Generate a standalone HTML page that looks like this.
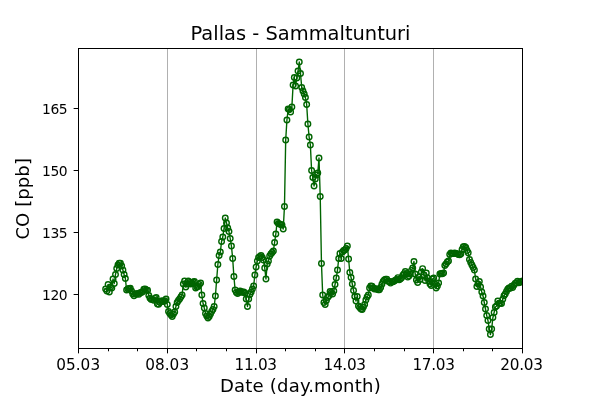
<!DOCTYPE html><html><head><meta charset="utf-8"><title>Pallas - Sammaltunturi</title><style>html,body{margin:0;padding:0;background:#fff}svg{display:block}text{font-family:"DejaVu Sans","Liberation Sans",sans-serif;fill:#000}</style></head><body>
<svg width="600" height="400" viewBox="0 0 600 400">
<rect width="600" height="400" fill="#fff"/>
<defs><clipPath id="ax"><rect x="78.5" y="48.5" width="444" height="300"/></clipPath></defs>
<line x1="167.50" y1="48.5" x2="167.50" y2="348.5" stroke="#b0b0b0" stroke-width="1"/>
<line x1="256.50" y1="48.5" x2="256.50" y2="348.5" stroke="#b0b0b0" stroke-width="1"/>
<line x1="344.50" y1="48.5" x2="344.50" y2="348.5" stroke="#b0b0b0" stroke-width="1"/>
<line x1="433.50" y1="48.5" x2="433.50" y2="348.5" stroke="#b0b0b0" stroke-width="1"/>
<g clip-path="url(#ax)" stroke="#006400" fill="none">
<polyline stroke-width="1.39" stroke-linejoin="round" points="105.63,289 106.87,291 108.1,284.5 109.33,292 110.57,287 111.8,288 113.03,279 114.27,283.5 115.5,274.5 116.73,268.5 117.97,265 119.2,263.3 120.43,263.2 121.67,266 122.9,270 124.13,274.5 125.37,278.5 126.6,290 127.83,289.09 129.07,288.5 130.3,288.27 131.53,291.08 132.77,293.95 134,295.69 135.23,293.67 136.47,294.21 137.7,293.45 138.93,294.3 140.17,292.61 141.4,292.58 142.63,291.84 143.87,289.28 145.1,288.97 146.33,290.02 147.57,290.27 148.8,295.58 150.03,298.29 151.27,299.38 152.5,299.6 153.73,300.35 154.97,298.35 156.2,297.47 157.43,304.08 158.67,304.33 159.9,302.46 161.13,301.22 162.37,300.69 163.6,301.43 164.83,300.78 166.07,299.09 167.3,304.5 168.53,311.5 169.77,313.5 171,315 172.23,316.5 173.47,314 174.7,312 175.93,306.5 177.17,302.5 178.4,300.5 179.63,299 180.87,297 182.1,295 183.33,284 184.57,281 185.8,287 187.03,284 188.27,281 189.5,282.5 190.73,284 191.97,283 193.2,282 194.43,281.5 195.67,288 196.9,287 198.13,286.5 199.37,284.5 200.6,283 201.83,295 203.07,303.5 204.3,308 205.53,313.5 206.77,316 208,318 209.23,316.5 210.47,314 211.7,311.5 212.93,309.5 214.17,306.5 215.4,296 216.63,280 217.87,264.5 219.1,255.5 220.33,252 221.57,241.5 222.8,237 224.03,228.5 225.27,218 226.5,223 227.73,228 228.97,231.5 230.2,238.5 231.43,246 232.67,258.5 233.9,276.5 235.13,290 236.37,292.5 237.6,293.62 238.83,292.32 240.07,291 241.3,292.22 242.53,291.94 243.77,291.97 245,293 246.23,299 247.47,306.5 248.7,299 249.93,294.5 251.17,292 252.4,289 253.63,286 254.87,275 256.1,267 257.33,261 258.57,257.5 259.8,256.5 261.03,255.5 262.27,257.5 263.5,260 264.73,268 265.97,279 267.2,264 268.43,261 269.67,256 270.9,254 272.13,252.5 273.37,251 274.6,242.5 275.83,234 277.07,222 278.3,223.5 279.53,224 280.77,224.5 282,225 283.23,229 284.47,206.5 285.7,140 286.93,120 288.17,109 289.4,109.5 290.63,112 291.87,107 293.1,85 294.33,77.5 295.57,86 296.8,78 298.03,71 299.27,62 300.5,73.5 301.73,87.5 302.97,91 304.2,94 305.43,97.5 306.67,104.5 307.9,124 309.13,137 310.37,145 311.6,170.5 312.83,177.5 314.07,186 315.3,179 316.53,175 317.77,173 319,158 320.23,196.5 321.47,263.5 322.7,295 323.93,302.5 325.17,304.5 326.4,300.5 327.63,297.5 328.87,296 330.1,291.5 331.33,292.5 332.57,294 333.8,291 335.03,284.5 336.27,278 337.5,270 338.73,258.5 339.97,253.5 341.2,258.5 342.43,252 343.67,250.5 344.9,250 346.13,248.5 347.37,246 348.6,259 349.83,272.5 351.07,277.5 352.3,284 353.53,290.5 354.77,296.5 356,301 357.23,296.5 358.47,306 359.7,307.5 360.93,309 362.17,309.5 363.4,307 364.63,304.5 365.87,300 367.1,297 368.33,295 369.57,288 370.8,286 372.03,286.33 373.27,288.03 374.5,289.03 375.73,288.74 376.97,289.12 378.2,289.67 379.43,289.65 380.67,287.59 381.9,284.25 383.13,281.36 384.37,279.86 385.6,279.12 386.83,279.1 388.07,281.29 389.3,281.45 390.53,283.05 391.77,281.76 393,281.87 394.23,281.09 395.47,280.16 396.7,279.38 397.93,277.66 399.17,279.67 400.4,278.92 401.63,277.77 402.87,275.18 404.1,273.69 405.33,271.56 406.57,273.49 407.8,277.06 409.03,276.1 410.27,273.99 411.5,270.37 412.73,268 413.97,261.5 415.2,274 416.43,280 417.67,282.5 418.9,277 420.13,279.5 421.37,272 422.6,268.6 423.83,275 425.07,280.5 426.3,273 427.53,278 428.77,281 430,284 431.23,285.5 432.47,279 433.7,278 434.93,284 436.17,288 437.4,286 438.63,283 439.87,274 441.1,273.5 442.33,273.8 443.57,273 444.8,265.5 446.03,264 447.27,262 448.5,261 449.73,254.5 450.97,253 452.2,253.5 453.43,253.5 454.67,253 455.9,253.5 457.13,253.8 458.37,254.6 459.6,254.8 460.83,254 462.07,249.5 463.3,246.8 464.53,246.4 465.77,247.5 467,250.5 468.23,252.8 469.47,259.5 470.7,262.5 471.93,265 473.17,267.5 474.4,270 475.63,279 476.87,286.5 478.1,284 479.33,281.5 480.57,287 481.8,292 483.03,296 484.27,302.5 485.5,309 486.73,315.5 487.97,320.5 489.2,329 490.43,334.5 491.67,329 492.9,317.5 494.13,312.5 495.37,307 496.6,306 497.83,301 499.07,303.1 500.3,303.35 501.53,303.41 502.77,299.15 504,295.82 505.23,293.97 506.47,291.57 507.7,289.15 508.93,287.99 510.17,288.33 511.4,286.31 512.63,287.44 513.87,285.24 515.1,283.44 516.33,282.83 517.57,281.16 518.8,282.81 520.03,282.21 521.27,281.78 522.5,280.94"/>
<g stroke-width="1.39">
<circle cx="105.63" cy="289" r="2.78"/>
<circle cx="106.87" cy="291" r="2.78"/>
<circle cx="108.1" cy="284.5" r="2.78"/>
<circle cx="109.33" cy="292" r="2.78"/>
<circle cx="110.57" cy="287" r="2.78"/>
<circle cx="111.8" cy="288" r="2.78"/>
<circle cx="113.03" cy="279" r="2.78"/>
<circle cx="114.27" cy="283.5" r="2.78"/>
<circle cx="115.5" cy="274.5" r="2.78"/>
<circle cx="116.73" cy="268.5" r="2.78"/>
<circle cx="117.97" cy="265" r="2.78"/>
<circle cx="119.2" cy="263.3" r="2.78"/>
<circle cx="120.43" cy="263.2" r="2.78"/>
<circle cx="121.67" cy="266" r="2.78"/>
<circle cx="122.9" cy="270" r="2.78"/>
<circle cx="124.13" cy="274.5" r="2.78"/>
<circle cx="125.37" cy="278.5" r="2.78"/>
<circle cx="126.6" cy="290" r="2.78"/>
<circle cx="127.83" cy="289.09" r="2.78"/>
<circle cx="129.07" cy="288.5" r="2.78"/>
<circle cx="130.3" cy="288.27" r="2.78"/>
<circle cx="131.53" cy="291.08" r="2.78"/>
<circle cx="132.77" cy="293.95" r="2.78"/>
<circle cx="134" cy="295.69" r="2.78"/>
<circle cx="135.23" cy="293.67" r="2.78"/>
<circle cx="136.47" cy="294.21" r="2.78"/>
<circle cx="137.7" cy="293.45" r="2.78"/>
<circle cx="138.93" cy="294.3" r="2.78"/>
<circle cx="140.17" cy="292.61" r="2.78"/>
<circle cx="141.4" cy="292.58" r="2.78"/>
<circle cx="142.63" cy="291.84" r="2.78"/>
<circle cx="143.87" cy="289.28" r="2.78"/>
<circle cx="145.1" cy="288.97" r="2.78"/>
<circle cx="146.33" cy="290.02" r="2.78"/>
<circle cx="147.57" cy="290.27" r="2.78"/>
<circle cx="148.8" cy="295.58" r="2.78"/>
<circle cx="150.03" cy="298.29" r="2.78"/>
<circle cx="151.27" cy="299.38" r="2.78"/>
<circle cx="152.5" cy="299.6" r="2.78"/>
<circle cx="153.73" cy="300.35" r="2.78"/>
<circle cx="154.97" cy="298.35" r="2.78"/>
<circle cx="156.2" cy="297.47" r="2.78"/>
<circle cx="157.43" cy="304.08" r="2.78"/>
<circle cx="158.67" cy="304.33" r="2.78"/>
<circle cx="159.9" cy="302.46" r="2.78"/>
<circle cx="161.13" cy="301.22" r="2.78"/>
<circle cx="162.37" cy="300.69" r="2.78"/>
<circle cx="163.6" cy="301.43" r="2.78"/>
<circle cx="164.83" cy="300.78" r="2.78"/>
<circle cx="166.07" cy="299.09" r="2.78"/>
<circle cx="167.3" cy="304.5" r="2.78"/>
<circle cx="168.53" cy="311.5" r="2.78"/>
<circle cx="169.77" cy="313.5" r="2.78"/>
<circle cx="171" cy="315" r="2.78"/>
<circle cx="172.23" cy="316.5" r="2.78"/>
<circle cx="173.47" cy="314" r="2.78"/>
<circle cx="174.7" cy="312" r="2.78"/>
<circle cx="175.93" cy="306.5" r="2.78"/>
<circle cx="177.17" cy="302.5" r="2.78"/>
<circle cx="178.4" cy="300.5" r="2.78"/>
<circle cx="179.63" cy="299" r="2.78"/>
<circle cx="180.87" cy="297" r="2.78"/>
<circle cx="182.1" cy="295" r="2.78"/>
<circle cx="183.33" cy="284" r="2.78"/>
<circle cx="184.57" cy="281" r="2.78"/>
<circle cx="185.8" cy="287" r="2.78"/>
<circle cx="187.03" cy="284" r="2.78"/>
<circle cx="188.27" cy="281" r="2.78"/>
<circle cx="189.5" cy="282.5" r="2.78"/>
<circle cx="190.73" cy="284" r="2.78"/>
<circle cx="191.97" cy="283" r="2.78"/>
<circle cx="193.2" cy="282" r="2.78"/>
<circle cx="194.43" cy="281.5" r="2.78"/>
<circle cx="195.67" cy="288" r="2.78"/>
<circle cx="196.9" cy="287" r="2.78"/>
<circle cx="198.13" cy="286.5" r="2.78"/>
<circle cx="199.37" cy="284.5" r="2.78"/>
<circle cx="200.6" cy="283" r="2.78"/>
<circle cx="201.83" cy="295" r="2.78"/>
<circle cx="203.07" cy="303.5" r="2.78"/>
<circle cx="204.3" cy="308" r="2.78"/>
<circle cx="205.53" cy="313.5" r="2.78"/>
<circle cx="206.77" cy="316" r="2.78"/>
<circle cx="208" cy="318" r="2.78"/>
<circle cx="209.23" cy="316.5" r="2.78"/>
<circle cx="210.47" cy="314" r="2.78"/>
<circle cx="211.7" cy="311.5" r="2.78"/>
<circle cx="212.93" cy="309.5" r="2.78"/>
<circle cx="214.17" cy="306.5" r="2.78"/>
<circle cx="215.4" cy="296" r="2.78"/>
<circle cx="216.63" cy="280" r="2.78"/>
<circle cx="217.87" cy="264.5" r="2.78"/>
<circle cx="219.1" cy="255.5" r="2.78"/>
<circle cx="220.33" cy="252" r="2.78"/>
<circle cx="221.57" cy="241.5" r="2.78"/>
<circle cx="222.8" cy="237" r="2.78"/>
<circle cx="224.03" cy="228.5" r="2.78"/>
<circle cx="225.27" cy="218" r="2.78"/>
<circle cx="226.5" cy="223" r="2.78"/>
<circle cx="227.73" cy="228" r="2.78"/>
<circle cx="228.97" cy="231.5" r="2.78"/>
<circle cx="230.2" cy="238.5" r="2.78"/>
<circle cx="231.43" cy="246" r="2.78"/>
<circle cx="232.67" cy="258.5" r="2.78"/>
<circle cx="233.9" cy="276.5" r="2.78"/>
<circle cx="235.13" cy="290" r="2.78"/>
<circle cx="236.37" cy="292.5" r="2.78"/>
<circle cx="237.6" cy="293.62" r="2.78"/>
<circle cx="238.83" cy="292.32" r="2.78"/>
<circle cx="240.07" cy="291" r="2.78"/>
<circle cx="241.3" cy="292.22" r="2.78"/>
<circle cx="242.53" cy="291.94" r="2.78"/>
<circle cx="243.77" cy="291.97" r="2.78"/>
<circle cx="245" cy="293" r="2.78"/>
<circle cx="246.23" cy="299" r="2.78"/>
<circle cx="247.47" cy="306.5" r="2.78"/>
<circle cx="248.7" cy="299" r="2.78"/>
<circle cx="249.93" cy="294.5" r="2.78"/>
<circle cx="251.17" cy="292" r="2.78"/>
<circle cx="252.4" cy="289" r="2.78"/>
<circle cx="253.63" cy="286" r="2.78"/>
<circle cx="254.87" cy="275" r="2.78"/>
<circle cx="256.1" cy="267" r="2.78"/>
<circle cx="257.33" cy="261" r="2.78"/>
<circle cx="258.57" cy="257.5" r="2.78"/>
<circle cx="259.8" cy="256.5" r="2.78"/>
<circle cx="261.03" cy="255.5" r="2.78"/>
<circle cx="262.27" cy="257.5" r="2.78"/>
<circle cx="263.5" cy="260" r="2.78"/>
<circle cx="264.73" cy="268" r="2.78"/>
<circle cx="265.97" cy="279" r="2.78"/>
<circle cx="267.2" cy="264" r="2.78"/>
<circle cx="268.43" cy="261" r="2.78"/>
<circle cx="269.67" cy="256" r="2.78"/>
<circle cx="270.9" cy="254" r="2.78"/>
<circle cx="272.13" cy="252.5" r="2.78"/>
<circle cx="273.37" cy="251" r="2.78"/>
<circle cx="274.6" cy="242.5" r="2.78"/>
<circle cx="275.83" cy="234" r="2.78"/>
<circle cx="277.07" cy="222" r="2.78"/>
<circle cx="278.3" cy="223.5" r="2.78"/>
<circle cx="279.53" cy="224" r="2.78"/>
<circle cx="280.77" cy="224.5" r="2.78"/>
<circle cx="282" cy="225" r="2.78"/>
<circle cx="283.23" cy="229" r="2.78"/>
<circle cx="284.47" cy="206.5" r="2.78"/>
<circle cx="285.7" cy="140" r="2.78"/>
<circle cx="286.93" cy="120" r="2.78"/>
<circle cx="288.17" cy="109" r="2.78"/>
<circle cx="289.4" cy="109.5" r="2.78"/>
<circle cx="290.63" cy="112" r="2.78"/>
<circle cx="291.87" cy="107" r="2.78"/>
<circle cx="293.1" cy="85" r="2.78"/>
<circle cx="294.33" cy="77.5" r="2.78"/>
<circle cx="295.57" cy="86" r="2.78"/>
<circle cx="296.8" cy="78" r="2.78"/>
<circle cx="298.03" cy="71" r="2.78"/>
<circle cx="299.27" cy="62" r="2.78"/>
<circle cx="300.5" cy="73.5" r="2.78"/>
<circle cx="301.73" cy="87.5" r="2.78"/>
<circle cx="302.97" cy="91" r="2.78"/>
<circle cx="304.2" cy="94" r="2.78"/>
<circle cx="305.43" cy="97.5" r="2.78"/>
<circle cx="306.67" cy="104.5" r="2.78"/>
<circle cx="307.9" cy="124" r="2.78"/>
<circle cx="309.13" cy="137" r="2.78"/>
<circle cx="310.37" cy="145" r="2.78"/>
<circle cx="311.6" cy="170.5" r="2.78"/>
<circle cx="312.83" cy="177.5" r="2.78"/>
<circle cx="314.07" cy="186" r="2.78"/>
<circle cx="315.3" cy="179" r="2.78"/>
<circle cx="316.53" cy="175" r="2.78"/>
<circle cx="317.77" cy="173" r="2.78"/>
<circle cx="319" cy="158" r="2.78"/>
<circle cx="320.23" cy="196.5" r="2.78"/>
<circle cx="321.47" cy="263.5" r="2.78"/>
<circle cx="322.7" cy="295" r="2.78"/>
<circle cx="323.93" cy="302.5" r="2.78"/>
<circle cx="325.17" cy="304.5" r="2.78"/>
<circle cx="326.4" cy="300.5" r="2.78"/>
<circle cx="327.63" cy="297.5" r="2.78"/>
<circle cx="328.87" cy="296" r="2.78"/>
<circle cx="330.1" cy="291.5" r="2.78"/>
<circle cx="331.33" cy="292.5" r="2.78"/>
<circle cx="332.57" cy="294" r="2.78"/>
<circle cx="333.8" cy="291" r="2.78"/>
<circle cx="335.03" cy="284.5" r="2.78"/>
<circle cx="336.27" cy="278" r="2.78"/>
<circle cx="337.5" cy="270" r="2.78"/>
<circle cx="338.73" cy="258.5" r="2.78"/>
<circle cx="339.97" cy="253.5" r="2.78"/>
<circle cx="341.2" cy="258.5" r="2.78"/>
<circle cx="342.43" cy="252" r="2.78"/>
<circle cx="343.67" cy="250.5" r="2.78"/>
<circle cx="344.9" cy="250" r="2.78"/>
<circle cx="346.13" cy="248.5" r="2.78"/>
<circle cx="347.37" cy="246" r="2.78"/>
<circle cx="348.6" cy="259" r="2.78"/>
<circle cx="349.83" cy="272.5" r="2.78"/>
<circle cx="351.07" cy="277.5" r="2.78"/>
<circle cx="352.3" cy="284" r="2.78"/>
<circle cx="353.53" cy="290.5" r="2.78"/>
<circle cx="354.77" cy="296.5" r="2.78"/>
<circle cx="356" cy="301" r="2.78"/>
<circle cx="357.23" cy="296.5" r="2.78"/>
<circle cx="358.47" cy="306" r="2.78"/>
<circle cx="359.7" cy="307.5" r="2.78"/>
<circle cx="360.93" cy="309" r="2.78"/>
<circle cx="362.17" cy="309.5" r="2.78"/>
<circle cx="363.4" cy="307" r="2.78"/>
<circle cx="364.63" cy="304.5" r="2.78"/>
<circle cx="365.87" cy="300" r="2.78"/>
<circle cx="367.1" cy="297" r="2.78"/>
<circle cx="368.33" cy="295" r="2.78"/>
<circle cx="369.57" cy="288" r="2.78"/>
<circle cx="370.8" cy="286" r="2.78"/>
<circle cx="372.03" cy="286.33" r="2.78"/>
<circle cx="373.27" cy="288.03" r="2.78"/>
<circle cx="374.5" cy="289.03" r="2.78"/>
<circle cx="375.73" cy="288.74" r="2.78"/>
<circle cx="376.97" cy="289.12" r="2.78"/>
<circle cx="378.2" cy="289.67" r="2.78"/>
<circle cx="379.43" cy="289.65" r="2.78"/>
<circle cx="380.67" cy="287.59" r="2.78"/>
<circle cx="381.9" cy="284.25" r="2.78"/>
<circle cx="383.13" cy="281.36" r="2.78"/>
<circle cx="384.37" cy="279.86" r="2.78"/>
<circle cx="385.6" cy="279.12" r="2.78"/>
<circle cx="386.83" cy="279.1" r="2.78"/>
<circle cx="388.07" cy="281.29" r="2.78"/>
<circle cx="389.3" cy="281.45" r="2.78"/>
<circle cx="390.53" cy="283.05" r="2.78"/>
<circle cx="391.77" cy="281.76" r="2.78"/>
<circle cx="393" cy="281.87" r="2.78"/>
<circle cx="394.23" cy="281.09" r="2.78"/>
<circle cx="395.47" cy="280.16" r="2.78"/>
<circle cx="396.7" cy="279.38" r="2.78"/>
<circle cx="397.93" cy="277.66" r="2.78"/>
<circle cx="399.17" cy="279.67" r="2.78"/>
<circle cx="400.4" cy="278.92" r="2.78"/>
<circle cx="401.63" cy="277.77" r="2.78"/>
<circle cx="402.87" cy="275.18" r="2.78"/>
<circle cx="404.1" cy="273.69" r="2.78"/>
<circle cx="405.33" cy="271.56" r="2.78"/>
<circle cx="406.57" cy="273.49" r="2.78"/>
<circle cx="407.8" cy="277.06" r="2.78"/>
<circle cx="409.03" cy="276.1" r="2.78"/>
<circle cx="410.27" cy="273.99" r="2.78"/>
<circle cx="411.5" cy="270.37" r="2.78"/>
<circle cx="412.73" cy="268" r="2.78"/>
<circle cx="413.97" cy="261.5" r="2.78"/>
<circle cx="415.2" cy="274" r="2.78"/>
<circle cx="416.43" cy="280" r="2.78"/>
<circle cx="417.67" cy="282.5" r="2.78"/>
<circle cx="418.9" cy="277" r="2.78"/>
<circle cx="420.13" cy="279.5" r="2.78"/>
<circle cx="421.37" cy="272" r="2.78"/>
<circle cx="422.6" cy="268.6" r="2.78"/>
<circle cx="423.83" cy="275" r="2.78"/>
<circle cx="425.07" cy="280.5" r="2.78"/>
<circle cx="426.3" cy="273" r="2.78"/>
<circle cx="427.53" cy="278" r="2.78"/>
<circle cx="428.77" cy="281" r="2.78"/>
<circle cx="430" cy="284" r="2.78"/>
<circle cx="431.23" cy="285.5" r="2.78"/>
<circle cx="432.47" cy="279" r="2.78"/>
<circle cx="433.7" cy="278" r="2.78"/>
<circle cx="434.93" cy="284" r="2.78"/>
<circle cx="436.17" cy="288" r="2.78"/>
<circle cx="437.4" cy="286" r="2.78"/>
<circle cx="438.63" cy="283" r="2.78"/>
<circle cx="439.87" cy="274" r="2.78"/>
<circle cx="441.1" cy="273.5" r="2.78"/>
<circle cx="442.33" cy="273.8" r="2.78"/>
<circle cx="443.57" cy="273" r="2.78"/>
<circle cx="444.8" cy="265.5" r="2.78"/>
<circle cx="446.03" cy="264" r="2.78"/>
<circle cx="447.27" cy="262" r="2.78"/>
<circle cx="448.5" cy="261" r="2.78"/>
<circle cx="449.73" cy="254.5" r="2.78"/>
<circle cx="450.97" cy="253" r="2.78"/>
<circle cx="452.2" cy="253.5" r="2.78"/>
<circle cx="453.43" cy="253.5" r="2.78"/>
<circle cx="454.67" cy="253" r="2.78"/>
<circle cx="455.9" cy="253.5" r="2.78"/>
<circle cx="457.13" cy="253.8" r="2.78"/>
<circle cx="458.37" cy="254.6" r="2.78"/>
<circle cx="459.6" cy="254.8" r="2.78"/>
<circle cx="460.83" cy="254" r="2.78"/>
<circle cx="462.07" cy="249.5" r="2.78"/>
<circle cx="463.3" cy="246.8" r="2.78"/>
<circle cx="464.53" cy="246.4" r="2.78"/>
<circle cx="465.77" cy="247.5" r="2.78"/>
<circle cx="467" cy="250.5" r="2.78"/>
<circle cx="468.23" cy="252.8" r="2.78"/>
<circle cx="469.47" cy="259.5" r="2.78"/>
<circle cx="470.7" cy="262.5" r="2.78"/>
<circle cx="471.93" cy="265" r="2.78"/>
<circle cx="473.17" cy="267.5" r="2.78"/>
<circle cx="474.4" cy="270" r="2.78"/>
<circle cx="475.63" cy="279" r="2.78"/>
<circle cx="476.87" cy="286.5" r="2.78"/>
<circle cx="478.1" cy="284" r="2.78"/>
<circle cx="479.33" cy="281.5" r="2.78"/>
<circle cx="480.57" cy="287" r="2.78"/>
<circle cx="481.8" cy="292" r="2.78"/>
<circle cx="483.03" cy="296" r="2.78"/>
<circle cx="484.27" cy="302.5" r="2.78"/>
<circle cx="485.5" cy="309" r="2.78"/>
<circle cx="486.73" cy="315.5" r="2.78"/>
<circle cx="487.97" cy="320.5" r="2.78"/>
<circle cx="489.2" cy="329" r="2.78"/>
<circle cx="490.43" cy="334.5" r="2.78"/>
<circle cx="491.67" cy="329" r="2.78"/>
<circle cx="492.9" cy="317.5" r="2.78"/>
<circle cx="494.13" cy="312.5" r="2.78"/>
<circle cx="495.37" cy="307" r="2.78"/>
<circle cx="496.6" cy="306" r="2.78"/>
<circle cx="497.83" cy="301" r="2.78"/>
<circle cx="499.07" cy="303.1" r="2.78"/>
<circle cx="500.3" cy="303.35" r="2.78"/>
<circle cx="501.53" cy="303.41" r="2.78"/>
<circle cx="502.77" cy="299.15" r="2.78"/>
<circle cx="504" cy="295.82" r="2.78"/>
<circle cx="505.23" cy="293.97" r="2.78"/>
<circle cx="506.47" cy="291.57" r="2.78"/>
<circle cx="507.7" cy="289.15" r="2.78"/>
<circle cx="508.93" cy="287.99" r="2.78"/>
<circle cx="510.17" cy="288.33" r="2.78"/>
<circle cx="511.4" cy="286.31" r="2.78"/>
<circle cx="512.63" cy="287.44" r="2.78"/>
<circle cx="513.87" cy="285.24" r="2.78"/>
<circle cx="515.1" cy="283.44" r="2.78"/>
<circle cx="516.33" cy="282.83" r="2.78"/>
<circle cx="517.57" cy="281.16" r="2.78"/>
<circle cx="518.8" cy="282.81" r="2.78"/>
<circle cx="520.03" cy="282.21" r="2.78"/>
<circle cx="521.27" cy="281.78" r="2.78"/>
<circle cx="522.5" cy="280.94" r="2.78"/>
</g></g>
<g stroke="#000" stroke-width="1">
<line x1="78.50" y1="348.5" x2="78.50" y2="353.36"/>
<line x1="108.50" y1="348.5" x2="108.50" y2="351.28"/>
<line x1="137.50" y1="348.5" x2="137.50" y2="351.28"/>
<line x1="167.50" y1="348.5" x2="167.50" y2="353.36"/>
<line x1="196.50" y1="348.5" x2="196.50" y2="351.28"/>
<line x1="226.50" y1="348.5" x2="226.50" y2="351.28"/>
<line x1="256.50" y1="348.5" x2="256.50" y2="353.36"/>
<line x1="285.50" y1="348.5" x2="285.50" y2="351.28"/>
<line x1="315.50" y1="348.5" x2="315.50" y2="351.28"/>
<line x1="344.50" y1="348.5" x2="344.50" y2="353.36"/>
<line x1="374.50" y1="348.5" x2="374.50" y2="351.28"/>
<line x1="404.50" y1="348.5" x2="404.50" y2="351.28"/>
<line x1="433.50" y1="348.5" x2="433.50" y2="353.36"/>
<line x1="463.50" y1="348.5" x2="463.50" y2="351.28"/>
<line x1="492.50" y1="348.5" x2="492.50" y2="351.28"/>
<line x1="522.50" y1="348.5" x2="522.50" y2="353.36"/>
<line x1="73.64" y1="108.50" x2="78.5" y2="108.50"/>
<line x1="73.64" y1="170.50" x2="78.5" y2="170.50"/>
<line x1="73.64" y1="232.50" x2="78.5" y2="232.50"/>
<line x1="73.64" y1="294.50" x2="78.5" y2="294.50"/>
</g>
<rect x="78.5" y="48.5" width="444" height="300" fill="none" stroke="#000" stroke-width="1" stroke-linejoin="miter"/>
<text x="56.17" y="369.8" font-size="15.28" letter-spacing="0.06">05.03</text>
<text x="145.17" y="369.8" font-size="15.28" letter-spacing="0.06">08.03</text>
<text x="234.58" y="369.8" font-size="15.28" letter-spacing="-0.32">11.03</text>
<text x="323.58" y="369.8" font-size="15.28" letter-spacing="-0.32">14.03</text>
<text x="412.48" y="369.8" font-size="15.28" letter-spacing="-0.32">17.03</text>
<text x="500.37" y="369.8" font-size="15.28" letter-spacing="-0.26">20.03</text>
<text x="67.3" y="114.20" font-size="13.89" text-anchor="end" letter-spacing="-0.4">165</text>
<text x="67.3" y="176.17" font-size="13.89" text-anchor="end" letter-spacing="-0.4">150</text>
<text x="67.3" y="238.13" font-size="13.89" text-anchor="end" letter-spacing="-0.4">135</text>
<text x="67.3" y="300.10" font-size="13.89" text-anchor="end" letter-spacing="-0.4">120</text>
<text x="300.5" y="39.8" font-size="19.44" text-anchor="middle">Pallas - Sammaltunturi</text>
<text x="300.4" y="391.7" font-size="18.06" text-anchor="middle" letter-spacing="0.19">Date (day.month)</text>
<text transform="translate(29,198.8) rotate(-90)" font-size="18.06" text-anchor="middle" letter-spacing="0.08">CO [ppb]</text>
</svg></body></html>
